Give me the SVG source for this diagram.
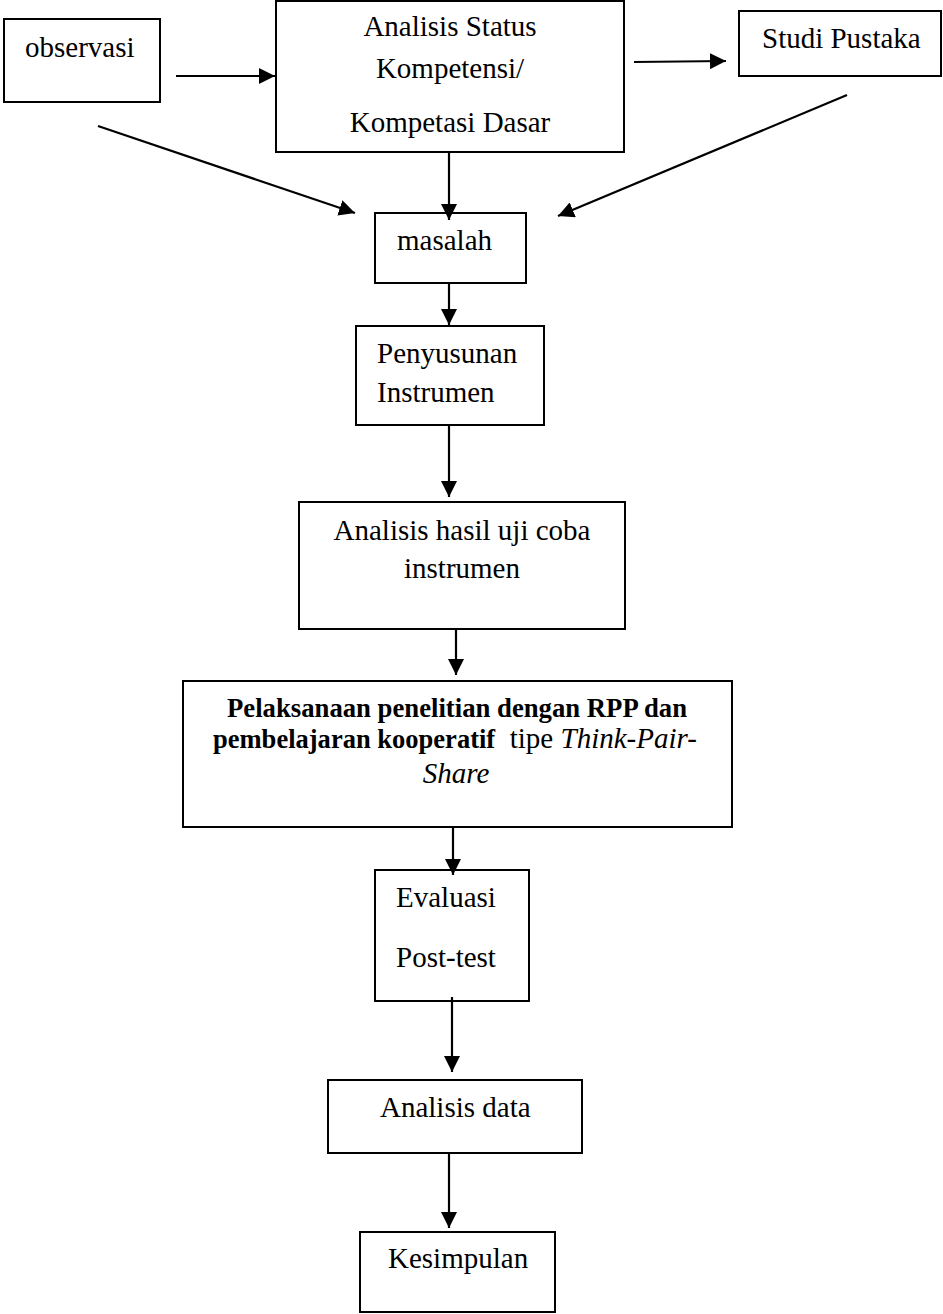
<svg xmlns="http://www.w3.org/2000/svg" width="943" height="1314" viewBox="0 0 943 1314">
<style>
  .box { fill: #fff; stroke: #000; stroke-width: 2; }
  .t { font-family: "Liberation Serif", "Times New Roman", serif; font-size: 29px; fill: #000; }
  .c { text-anchor: middle; }
  .b { font-weight: bold; font-size: 26.5px; }
  .i { font-style: italic; }
  .conn line { stroke: #000; stroke-width: 2.2; marker-end: url(#ah); }
</style>
<defs>
  <marker id="ah" markerUnits="userSpaceOnUse" markerWidth="17" markerHeight="16" refX="16" refY="8" orient="auto">
    <path d="M0,0 L16,8 L0,16 z" fill="#000"/>
  </marker>
</defs>
<rect width="943" height="1314" fill="#fff"/>

<g id="observasi">
  <rect class="box" x="4" y="19" width="156" height="83"/>
  <text class="t" x="25" y="57">observasi</text>
</g>
<g id="analisis-status">
  <rect class="box" x="276" y="1" width="348" height="151"/>
  <text class="t c" x="450" y="36">Analisis Status</text>
  <text class="t c" x="450" y="78">Kompetensi/</text>
  <text class="t c" x="450" y="132">Kompetasi Dasar</text>
</g>
<g id="studi-pustaka">
  <rect class="box" x="739" y="11" width="202" height="65"/>
  <text class="t" x="762" y="48">Studi Pustaka</text>
</g>
<g id="masalah">
  <rect class="box" x="375" y="213" width="151" height="70"/>
  <text class="t" x="397" y="250">masalah</text>
</g>
<g id="penyusunan">
  <rect class="box" x="356" y="326" width="188" height="99"/>
  <text class="t" x="377" y="363">Penyusunan</text>
  <text class="t" x="377" y="402">Instrumen</text>
</g>
<g id="analisis-hasil">
  <rect class="box" x="299" y="502" width="326" height="127"/>
  <text class="t c" x="462" y="540">Analisis hasil uji coba</text>
  <text class="t c" x="462" y="578">instrumen</text>
</g>
<g id="pelaksanaan">
  <rect class="box" x="183" y="681" width="549" height="146"/>
  <text class="t c b" x="457" y="717" textLength="460" lengthAdjust="spacingAndGlyphs">Pelaksanaan penelitian dengan RPP dan</text>
  <text class="t c" x="455" y="748" textLength="484" lengthAdjust="spacingAndGlyphs"><tspan class="b">pembelajaran kooperatif</tspan><tspan xml:space="preserve">  tipe </tspan><tspan class="i">Think-Pair-</tspan></text>
  <text class="t c i" x="456" y="783">Share</text>
</g>
<g id="evaluasi">
  <rect class="box" x="375" y="870" width="154" height="131"/>
  <text class="t" x="396" y="907">Evaluasi</text>
  <text class="t" x="396" y="967">Post-test</text>
</g>
<g id="analisis-data">
  <rect class="box" x="328" y="1080" width="254" height="73"/>
  <text class="t" x="380" y="1117">Analisis data</text>
</g>
<g id="kesimpulan">
  <rect class="box" x="360" y="1232" width="195" height="80"/>
  <text class="t" x="388" y="1268">Kesimpulan</text>
</g>

<g id="connectors" class="conn">
  <line x1="176" y1="76" x2="275" y2="76"/>
  <line x1="634" y1="62" x2="726" y2="61"/>
  <line x1="98" y1="126" x2="355" y2="213"/>
  <line x1="847" y1="95" x2="558" y2="216"/>
  <line x1="449" y1="152" x2="449" y2="220"/>
  <line x1="449" y1="283" x2="449" y2="325"/>
  <line x1="449" y1="425" x2="449" y2="497"/>
  <line x1="456" y1="629" x2="456" y2="675"/>
  <line x1="453" y1="827" x2="453" y2="875"/>
  <line x1="452" y1="997" x2="452" y2="1072"/>
  <line x1="449" y1="1153" x2="449" y2="1228"/>
</g>
</svg>
